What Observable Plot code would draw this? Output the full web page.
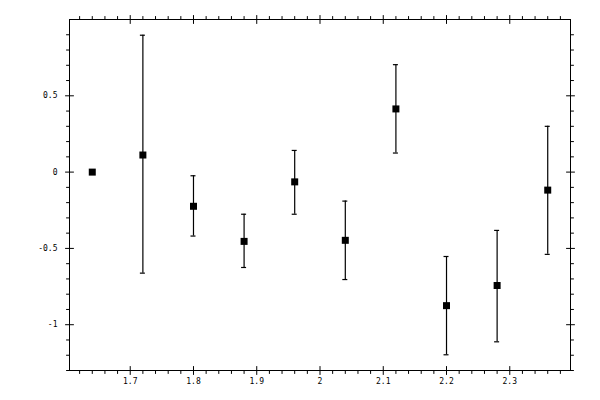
<!DOCTYPE html>
<html>
<head>
<meta charset="utf-8">
<script src="https://cdn.jsdelivr.net/npm/d3@7"></script>
<script src="https://cdn.jsdelivr.net/npm/@observablehq/plot@0.6"></script>
<style>
  html, body { margin: 0; padding: 0; background: #fff; }
  #chart svg { display: block; }
</style>
</head>
<body>
<div id="chart"></div>
<script>
// Data
const xs    = [1.64, 1.72, 1.80, 1.88, 1.96, 2.04, 2.12, 2.20, 2.28, 2.36];
const ys    = [0, 0.112, -0.224, -0.454, -0.064, -0.447, 0.414, -0.875, -0.743, -0.118];
const lows  = [0, -0.662, -0.419, -0.625, -0.276, -0.704, 0.125, -1.197, -1.112, -0.539];
const highs = [0, 0.897, -0.024, -0.276, 0.142, -0.190, 0.704, -0.553, -0.382, 0.300];

const xMajor = [1.7, 1.8, 1.9, 2.0, 2.1, 2.2, 2.3];
const yMajor = [-1, -0.5, 0, 0.5];
const xMinor = d3.range(81, 120).map(i => +(i * 0.02).toFixed(2)).filter(v => !xMajor.some(m => Math.abs(m - v) < 1e-9));
const yMinor = d3.range(-13, 10).map(i => +(i * 0.1).toFixed(1)).filter(v => !yMajor.some(m => Math.abs(m - v) < 1e-9));

const data = xs.map((x, i) => ({x, y: ys[i], lo: lows[i], hi: highs[i]}));
const bars = data.filter(d => d.hi !== d.lo);

const line = {draw(ctx, l) { ctx.moveTo(0, 0); ctx.lineTo(0, -l); }};
function tk(values, dim, frameAnchor, length, rotate) {
  const o = {frameAnchor, length, rotate, shape: line, anchor: "start", stroke: "black", strokeWidth: 1};
  o[dim] = d => d;
  return Plot.vector(values, o);
}

const chart = Plot.plot({
  width: 600,
  height: 400,
  marginLeft: 69,
  marginRight: 30,
  marginTop: 19,
  marginBottom: 30,
  style: {fontFamily: "'DejaVu Sans Mono', monospace", fontSize: "8px", background: "white", color: "black"},
  x: {domain: [1.604, 2.396]},
  y: {domain: [-1.3, 1.0]},
  marks: [
    Plot.frame({stroke: "black", strokeWidth: 1}),
    // bottom
    tk(xMajor, "x", "bottom", 4, 180), tk(xMajor, "x", "bottom", 4, 0),
    tk(xMinor, "x", "bottom", 3, 180),
    // top
    tk(xMajor, "x", "top", 4, 0), tk(xMajor, "x", "top", 4, 180),
    tk(xMinor, "x", "top", 3, 0),
    // left
    tk(yMajor, "y", "left", 4, 270), tk(yMajor, "y", "left", 4, 90),
    tk(yMinor, "y", "left", 3, 270),
    // right
    tk(yMajor, "y", "right", 4, 90), tk(yMajor, "y", "right", 4, 270),
    tk(yMinor, "y", "right", 3, 90),
    Plot.axisX(xMajor, {anchor: "bottom", tickSize: 0, tickPadding: 8, tickFormat: d => String(d), label: null}),
    Plot.axisY(yMajor, {anchor: "left", tickSize: 0, tickPadding: 12, tickFormat: d => String(d), label: null}),
    // error bars
    Plot.ruleX(bars, {x: "x", y1: "lo", y2: "hi", stroke: "black", strokeWidth: 1.2}),
    Plot.ruleY(bars, {y: "hi", x1: "x", x2: "x", insetLeft: -2.5, insetRight: -2.5, stroke: "black", strokeWidth: 1.2}),
    Plot.ruleY(bars, {y: "lo", x1: "x", x2: "x", insetLeft: -2.5, insetRight: -2.5, stroke: "black", strokeWidth: 1.2}),
    // markers
    Plot.dot(data, {x: "x", y: "y", symbol: "square", r: 3.95, fill: "black", stroke: "none"})
  ]
});
document.getElementById("chart").appendChild(chart);
</script>
</body>
</html>
